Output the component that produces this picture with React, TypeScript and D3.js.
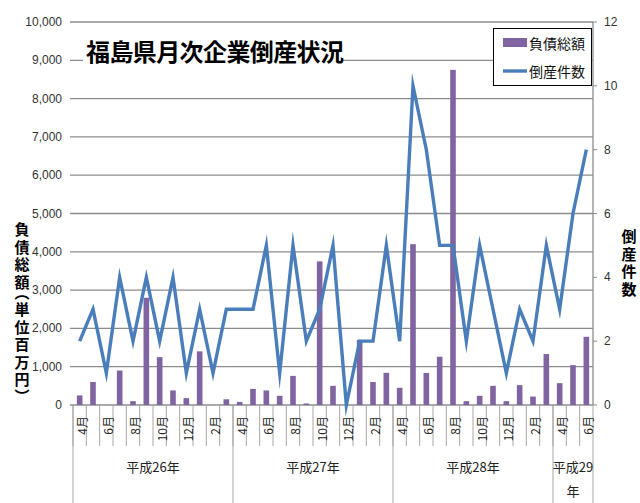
import * as d3 from "d3";

const years = ["平成26年", "平成27年", "平成28年", "平成29年"];
const monthsByYear = [
  ["4月", "5月", "6月", "7月", "8月", "9月", "10月", "11月", "12月", "1月", "2月", "3月"],
  ["4月", "5月", "6月", "7月", "8月", "9月", "10月", "11月", "12月", "1月", "2月", "3月"],
  ["4月", "5月", "6月", "7月", "8月", "9月", "10月", "11月", "12月", "1月", "2月", "3月"],
  ["4月", "5月", "6月"],
];

// 負債総額 (百万円)
const debt = [
  250, 600, 0, 900, 100, 2800, 1250, 380, 180, 1400, 0, 150,
  80, 420, 380, 240, 760, 40, 3750, 500, 0, 1700, 600, 840,
  450, 4200, 835, 1260, 8750, 100, 240, 500, 100, 520, 220, 1330,
  570, 1040, 1780,
];

// 倒産件数
const cases = [
  2, 3, 1, 4, 2, 4, 2, 4, 1, 3, 1, 3,
  3, 3, 5, 1, 5, 2, 3, 5, 0, 2, 2, 5,
  2, 10, 8, 5, 5, 2, 5, 3, 1, 3, 2, 5,
  3, 6, 8,
];

const leftTicks = d3.range(0, 10001, 1000);
const rightTicks = d3.range(0, 13, 2);

const title = "福島県月次企業倒産状況";
const leftTitle = "負債総額（単位百万円）";
const rightTitle = "倒産件数";
const legendDebt = "負債総額";
const legendCases = "倒産件数";

const categories = years.flatMap((y, yi) => monthsByYear[yi].map((m) => `${y}-${m}`));

const W = 640;
const H = 503;
const margin = { top: 22, right: 47, bottom: 98, left: 73 };
const plotRight = W - margin.right;
const plotBottom = H - margin.bottom;

const jp = "'Noto Sans CJK JP', 'Noto Sans', sans-serif";
const num = "'Liberation Sans', Arial, sans-serif";
const gridColor = "#8c8c8c";
const barColor = "#8064a2";
const lineColor = "#4a7ebb";

export default function App() {
  const x = d3.scaleBand().domain(categories).range([margin.left, plotRight]).padding(0);
  const yL = d3.scaleLinear().domain([0, 10000]).range([plotBottom, margin.top]);
  const yR = d3.scaleLinear().domain([0, 12]).range([plotBottom, margin.top]);
  const bw = x.bandwidth();
  const barW = bw * 0.42;

  const line = d3
    .line<number>()
    .x((_, i) => (x(categories[i]) ?? 0) + bw / 2)
    .y((d) => yR(d));

  let offset = 0;
  const yearSpans = years.map((y, yi) => {
    const start = offset;
    offset += monthsByYear[yi].length;
    return { label: y, start, end: offset };
  });

  const verticalStyle = {
    writingMode: "vertical-rl" as const,
    fontFeatureSettings: '"vpal"',
  };

  return (
    <svg
      width={W}
      height={H}
      style={{ position: "absolute", left: 0, top: 0, background: "#fff" }}
    >
      <rect width={W} height={H} fill="#fff" />
      {/* grid */}
      {leftTicks.map((t) => (
        <line
          key={t}
          x1={margin.left - 3}
          x2={plotRight}
          y1={yL(t)}
          y2={yL(t)}
          stroke={gridColor}
          strokeWidth={1.3}
        />
      ))}
      <line x1={plotRight} x2={plotRight} y1={margin.top} y2={plotBottom} stroke={gridColor} strokeWidth={1.3} />
      {rightTicks.map((t) => (
        <line key={t} x1={plotRight} x2={plotRight + 4} y1={yR(t)} y2={yR(t)} stroke={gridColor} />
      ))}

      {/* bars */}
      {debt.map((d, i) => (
        <rect
          key={i}
          x={(x(categories[i]) ?? 0) + (bw - barW) / 2}
          y={yL(d)}
          width={barW}
          height={plotBottom - yL(d)}
          fill={barColor}
        />
      ))}

      {/* line */}
      <path d={line(cases) ?? ""} fill="none" stroke={lineColor} strokeWidth={3.4} strokeLinejoin="miter" strokeMiterlimit={10} />

      {/* left ticks */}
      {leftTicks.map((t) => (
        <text
          key={t}
          x={62}
          y={yL(t)}
          textAnchor="end"
          dominantBaseline="central"
          fontSize={12}
          fontFamily={num}
          fill="#333"
        >
          {d3.format(",")(t)}
        </text>
      ))}
      {rightTicks.map((t) => (
        <text
          key={t}
          x={604}
          y={yR(t)}
          dominantBaseline="central"
          fontSize={12}
          fontFamily={num}
          fill="#333"
        >
          {t}
        </text>
      ))}

      {/* x axis */}
      {categories.map((c) => (
        <line
          key={c}
          x1={x(c) ?? 0}
          x2={x(c) ?? 0}
          y1={plotBottom}
          y2={446}
          stroke="#a6a6a6"
        />
      ))}
      {yearSpans.map((s) => (
        <line
          key={s.label}
          x1={x(categories[s.start]) ?? 0}
          x2={x(categories[s.start]) ?? 0}
          y1={plotBottom}
          y2={H}
          stroke="#a6a6a6"
        />
      ))}
      <line x1={plotRight} x2={plotRight} y1={plotBottom} y2={H} stroke="#a6a6a6" />
      {categories.map((c, i) => {
        if (i % 2 !== 0) return null;
        const cx = (x(c) ?? 0) + bw / 2 + 1.5;
        return (
          <text
            key={c}
            transform={`translate(${cx},416) rotate(-90)`}
            textAnchor="end"
            dominantBaseline="central"
            fontSize={12}
            fontFamily={jp}
            fill="#222"
          >
            {c.split("-")[1]}
          </text>
        );
      })}
      {yearSpans.map((s) => {
        const x0 = x(categories[s.start]) ?? 0;
        const x1 = (x(categories[s.end - 1]) ?? 0) + bw;
        const cx = (x0 + x1) / 2;
        const narrow = x1 - x0 < 60;
        if (narrow) {
          return (
            <text key={s.label} x={cx} y={466} textAnchor="middle" dominantBaseline="central" fontSize={13} fontFamily={jp} fill="#222">
              <tspan x={cx}>{s.label.slice(0, -1)}</tspan>
              <tspan x={cx} dy={24}>{s.label.slice(-1)}</tspan>
            </text>
          );
        }
        return (
          <text key={s.label} x={cx} y={466} textAnchor="middle" dominantBaseline="central" fontSize={13} fontFamily={jp} fill="#222">
            {s.label}
          </text>
        );
      })}

      {/* axis titles */}
      <text x={22} y={222} fontSize={15} fontWeight="bold" fontFamily={jp} letterSpacing={2.5} style={verticalStyle}>
        {leftTitle}
      </text>
      <text x={629} y={229} fontSize={15} fontWeight="bold" fontFamily={jp} letterSpacing={2.5} style={verticalStyle}>
        {rightTitle}
      </text>

      {/* chart title */}
      <rect x={83} y={37} width={260} height={27} fill="#fff" />
      <text x={86} y={50} dominantBaseline="central" fontSize={24} fontWeight="bold" letterSpacing={-0.6} fontFamily={jp} fill="#000">
        {title}
      </text>

      {/* legend */}
      <rect x={493.5} y={28.5} width={98} height={57} fill="#fff" stroke="#000" />
      <rect x={503} y={38} width={24} height={9} fill={barColor} />
      <text x={529} y={42.5} dominantBaseline="central" fontSize={14} fontFamily={jp} fill="#111">
        {legendDebt}
      </text>
      <line x1={503} x2={527} y1={71} y2={71} stroke={lineColor} strokeWidth={3.4} />
      <text x={529} y={71} dominantBaseline="central" fontSize={14} fontFamily={jp} fill="#111">
        {legendCases}
      </text>
    </svg>
  );
}
